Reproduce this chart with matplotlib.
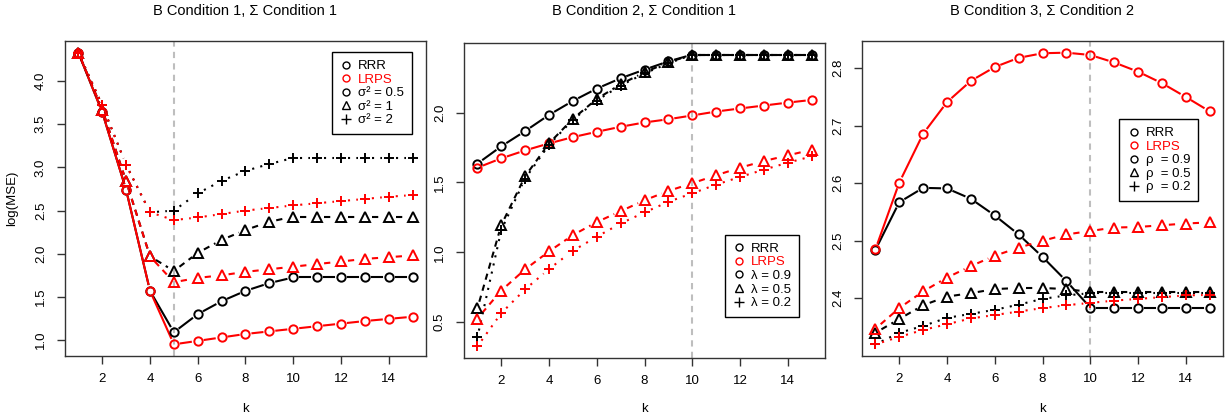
import numpy as np
import matplotlib
matplotlib.use('Agg')
import matplotlib.pyplot as plt

plt.rcParams['font.family'] = ['Liberation Sans', 'DejaVu Sans']

k = np.arange(1, 16)

# panel 1: B condition 1, Sigma condition 1
p1_rrr_a = [4.33, 3.64, 2.74, 1.57, 1.09, 1.30, 1.45, 1.57, 1.66, 1.725, 1.725, 1.725, 1.725, 1.725, 1.725]
p1_lrps_a = [4.33, 3.64, 2.74, 1.57, 0.95, 0.99, 1.03, 1.07, 1.10, 1.13, 1.16, 1.19, 1.22, 1.245, 1.27]
p1_rrr_b = [4.33, 3.67, 2.84, 1.97, 1.80, 2.01, 2.16, 2.275, 2.37, 2.43, 2.43, 2.43, 2.43, 2.43, 2.43]
p1_lrps_b = [4.33, 3.67, 2.84, 1.97, 1.67, 1.72, 1.75, 1.79, 1.82, 1.85, 1.88, 1.91, 1.94, 1.96, 1.98]
p1_rrr_c = [4.33, 3.72, 3.03, 2.48, 2.50, 2.70, 2.845, 2.96, 3.04, 3.11, 3.11, 3.11, 3.11, 3.11, 3.11]
p1_lrps_c = [4.33, 3.72, 3.03, 2.48, 2.39, 2.42, 2.46, 2.50, 2.53, 2.56, 2.585, 2.61, 2.635, 2.66, 2.68]

# panel 2: B condition 2, Sigma condition 1
p2_rrr_a = [1.634, 1.758, 1.867, 1.983, 2.083, 2.171, 2.245, 2.307, 2.366, 2.414, 2.414, 2.414, 2.414, 2.414, 2.414]
p2_lrps_a = [1.605, 1.672, 1.729, 1.779, 1.824, 1.862, 1.898, 1.929, 1.952, 1.979, 2.007, 2.029, 2.05, 2.071, 2.09]
p2_rrr_b = [0.598, 1.194, 1.544, 1.779, 1.955, 2.097, 2.202, 2.288, 2.359, 2.414, 2.414, 2.414, 2.414, 2.414, 2.414]
p2_lrps_b = [0.526, 0.726, 0.878, 1.006, 1.123, 1.216, 1.294, 1.372, 1.439, 1.494, 1.551, 1.605, 1.653, 1.693, 1.734]
p2_rrr_c = [0.391, 1.158, 1.527, 1.769, 1.948, 2.086, 2.193, 2.28, 2.352, 2.414, 2.414, 2.414, 2.414, 2.414, 2.414]
p2_lrps_c = [0.327, 0.564, 0.735, 0.880, 1.011, 1.111, 1.206, 1.285, 1.361, 1.422, 1.484, 1.539, 1.591, 1.641, 1.686]

# panel 3: B condition 3, Sigma condition 2
p3_rrr_a = [2.484, 2.567, 2.592, 2.591, 2.573, 2.544, 2.511, 2.472, 2.430, 2.384, 2.384, 2.384, 2.384, 2.384, 2.384]
p3_lrps_a = [2.485, 2.601, 2.686, 2.741, 2.778, 2.802, 2.818, 2.826, 2.827, 2.823, 2.810, 2.794, 2.774, 2.750, 2.725]
p3_rrr_b = [2.340, 2.364, 2.388, 2.403, 2.409, 2.416, 2.418, 2.418, 2.416, 2.411, 2.411, 2.411, 2.411, 2.411, 2.411]
p3_lrps_b = [2.347, 2.383, 2.412, 2.436, 2.456, 2.474, 2.488, 2.500, 2.511, 2.517, 2.523, 2.524, 2.527, 2.530, 2.532]
p3_rrr_c = [2.320, 2.340, 2.352, 2.366, 2.373, 2.380, 2.389, 2.399, 2.405, 2.409, 2.409, 2.409, 2.409, 2.409, 2.409]
p3_lrps_c = [2.320, 2.333, 2.345, 2.355, 2.365, 2.371, 2.377, 2.383, 2.388, 2.392, 2.396, 2.399, 2.402, 2.405, 2.406]

titles = ['B Condition 1, \u03a3 Condition 1', 'B Condition 2, \u03a3 Condition 1', 'B Condition 3, \u03a3 Condition 2']
legend_params = [['\u03c3\u00b2 = 0.5', '\u03c3\u00b2 = 1', '\u03c3\u00b2 = 2'],
                 ['\u03bb = 0.9', '\u03bb = 0.5', '\u03bb = 0.2'],
                 ['\u03c1  = 0.9', '\u03c1  = 0.5', '\u03c1  = 0.2']]
true_k = [5, 10, 10]
yticks = [np.arange(1.0, 4.01, 0.5), np.arange(0.5, 2.01, 0.5), np.arange(2.4, 2.81, 0.1)]

panels = [
    [(p1_rrr_a, p1_lrps_a), (p1_rrr_b, p1_lrps_b), (p1_rrr_c, p1_lrps_c)],
    [(p2_rrr_a, p2_lrps_a), (p2_rrr_b, p2_lrps_b), (p2_rrr_c, p2_lrps_c)],
    [(p3_rrr_a, p3_lrps_a), (p3_rrr_b, p3_lrps_b), (p3_rrr_c, p3_lrps_c)],
]

markers = ['o', '^', '+']
styles = ['-', (0, (3, 2.5)), (0, (1, 3))]
colors = ['black', '#ff0000']

W, H = 1225, 418
fig = plt.figure(figsize=(W / 100, H / 100), dpi=100)

# axes boxes in pixels: left, right, top, bottom
boxes = [(65, 426, 41, 356), (464, 825, 43, 358), (862, 1223, 41, 356)]
leg_pos = [('upper right', (0.961, 0.965)), ('lower right', (0.928, 0.13)), ('upper right', (0.931, 0.752))]


def gap_line(ax, x, y, color, ls, gap=7.0):
    # R type="b": segments stop short of the points
    pts = ax.transData.transform(np.column_stack([x, y]))
    inv = ax.transData.inverted()
    for p0, p1 in zip(pts[:-1], pts[1:]):
        d = p1 - p0
        L = np.hypot(d[0], d[1])
        if L <= 2 * gap:
            continue
        u = d / L
        seg = inv.transform(np.array([p0 + u * gap, p1 - u * gap]))
        ax.plot(seg[:, 0], seg[:, 1], color=color, ls=ls, lw=1.5, zorder=2)


for i, series in enumerate(panels):
    l, r, t, b = boxes[i]
    ax = fig.add_axes([l / W, 1 - b / H, (r - l) / W, (b - t) / H])
    allv = np.concatenate([np.array(s) for pair in series for s in pair])
    lo, hi = allv.min(), allv.max()
    ext = 0.04 * (hi - lo)
    ax.set_xlim(1 - 0.56, 15 + 0.56)
    ax.set_ylim(lo - ext, hi + ext)

    ax.axvline(true_k[i], color='#bebebe', ls=(0, (3, 2.5)), lw=1.5, zorder=1)

    for j, (rrr, lrps) in enumerate(series):
        for c, vals in zip(colors, (rrr, lrps)):
            gap_line(ax, k, vals, c, styles[j])
            ax.plot(k, vals, ls='none', marker=markers[j], color=c, ms=7 if markers[j] != 'o' else 6,
                    mfc='none', mew=1.4, zorder=3)

    ax.set_xticks(np.arange(2, 15, 2))
    ax.set_yticks(yticks[i])
    ax.set_yticklabels(['%.1f' % v for v in yticks[i]], rotation=90, va='center')
    ax.tick_params(direction='out', length=6, width=1, labelsize=9.5, color='#333333', pad=6)
    ax.tick_params(axis='y', pad=7)
    for sp in ax.spines.values():
        sp.set_color('#333333')
        sp.set_linewidth(1)

    hs = [plt.Line2D([], [], ls='none', marker='o', color='black', mfc='none', ms=5, mew=1),
          plt.Line2D([], [], ls='none', marker='o', color='#ff0000', mfc='none', ms=5, mew=1),
          plt.Line2D([], [], ls='none', marker='o', color='black', mfc='none', ms=5, mew=1),
          plt.Line2D([], [], ls='none', marker='^', color='black', mfc='none', ms=6, mew=1),
          plt.Line2D([], [], ls='none', marker='+', color='black', mfc='none', ms=7, mew=1)]
    labs = ['RRR', 'LRPS'] + legend_params[i]
    loc, anchor = leg_pos[i]
    leg = ax.legend(hs, labs, loc=loc, bbox_to_anchor=anchor, fontsize=9.5, frameon=True, fancybox=False,
                    edgecolor='black', framealpha=1, handlelength=1.0, handletextpad=0.4,
                    labelspacing=0.1, borderpad=0.6, borderaxespad=0,
                    labelcolor=['black', '#ff0000', 'black', 'black', 'black'])
    leg.get_frame().set_linewidth(1)

    cx = (l + r) / 2 / W
    fig.text(cx, 1 - 11 / H, titles[i], ha='center', va='center', fontsize=10.5)
    fig.text(cx, 1 - 409.5 / H, 'k', ha='center', va='center', fontsize=9.5)

fig.text(12 / W, 1 - 198 / H, 'log(MSE)', rotation=90, ha='center', va='center', fontsize=9.5)

fig.savefig('out.png', dpi=100)
